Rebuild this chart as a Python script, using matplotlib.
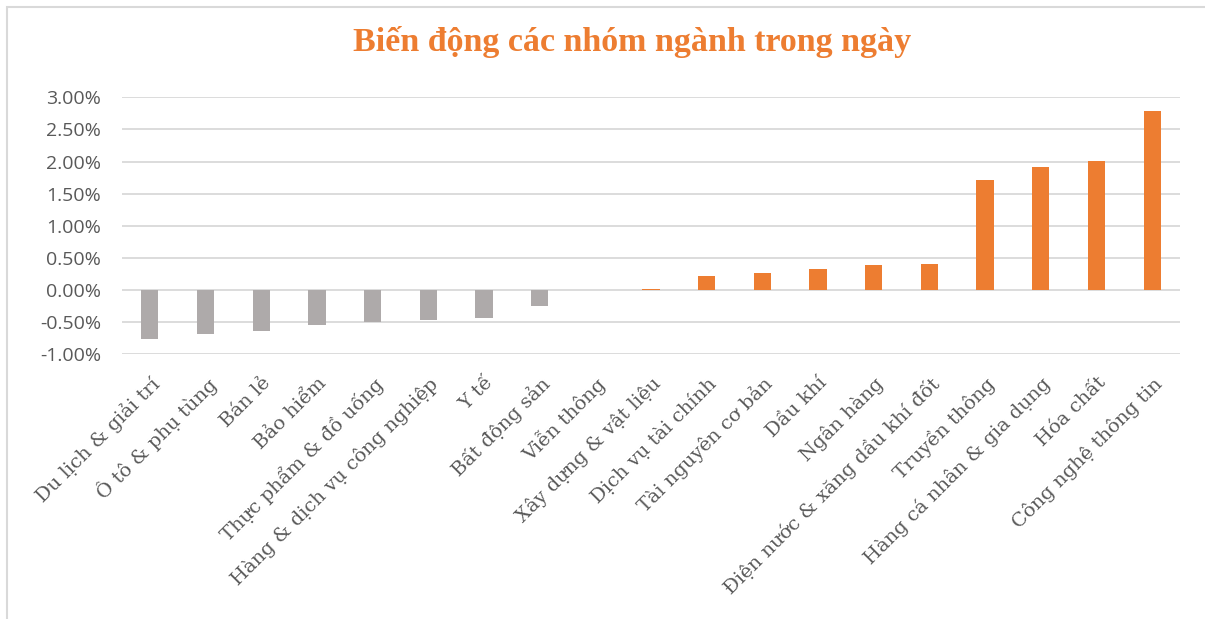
import matplotlib.pyplot as plt
from matplotlib.patches import Rectangle
from matplotlib.ticker import FuncFormatter

# Biến động các nhóm ngành trong ngày (%)
sectors = [
    "Du lịch & giải trí", "Ô tô & phụ tùng", "Bán lẻ", "Bảo hiểm",
    "Thực phẩm & đồ uống", "Hàng & dịch vụ công nghiệp", "Y tế",
    "Bất động sản", "Viễn thông", "Xây dựng & vật liệu",
    "Dịch vụ tài chính", "Tài nguyên cơ bản", "Dầu khí", "Ngân hàng",
    "Điện nước & xăng dầu khí đốt", "Truyền thông",
    "Hàng cá nhân & gia dụng", "Hóa chất", "Công nghệ thông tin",
]
changes = [-0.76, -0.69, -0.64, -0.55, -0.50, -0.47, -0.43, -0.25, 0.0,
           0.01, 0.22, 0.27, 0.32, 0.39, 0.40, 1.72, 1.92, 2.01, 2.79]
yticks = [-1.0, -0.5, 0.0, 0.5, 1.0, 1.5, 2.0, 2.5, 3.0]

orange = "#ED7D31"
gray = "#AEAAAA"
text_gray = "#595959"

fig = plt.figure(figsize=(12.05, 6.19), dpi=100)
ax = fig.add_axes([122 / 1205, 1 - 354.3 / 619, (1180 - 122) / 1205, (354.3 - 97.3) / 619])

colors = [orange if v > 0 else gray for v in changes]
ax.bar(range(len(sectors)), changes, width=0.31, color=colors, zorder=3)

ax.set_xlim(-0.5, len(sectors) - 0.5)
ax.set_ylim(-1.0, 3.0)
ax.set_yticks(yticks)
ax.yaxis.set_major_formatter(FuncFormatter(lambda v, p: f"{v:.2f}%"))
ax.grid(axis="y", color="#d9d9d9", linewidth=1.3, zorder=0)
for s in ax.spines.values():
    s.set_visible(False)
ax.tick_params(axis="both", length=0)
ax.tick_params(axis="y", pad=15, labelsize=14, labelcolor=text_gray)
for lab in ax.get_yticklabels():
    lab.set_fontfamily("Open Sans")

ax.set_xticks(range(len(sectors)))
ax.set_xticklabels(sectors, rotation=45, ha="right", rotation_mode="anchor",
                   fontsize=14, color=text_gray, family="DejaVu Serif")
ax.tick_params(axis="x", pad=14)

fig.text(632 / 1205, 1 - 42 / 619, "Biến động các nhóm ngành trong ngày",
         ha="center", va="center", fontsize=24.5, fontweight="bold",
         color=orange, family="Liberation Serif")

# chart frame (only left and top edges fall inside the image)
fig.patches.append(Rectangle((7 / 1205, -0.1), 1.2, 1 - 7 / 619 + 0.1,
                             transform=fig.transFigure, fill=False,
                             edgecolor="#d9d9d9", linewidth=1.5))

fig.savefig("out.png", dpi=100)
